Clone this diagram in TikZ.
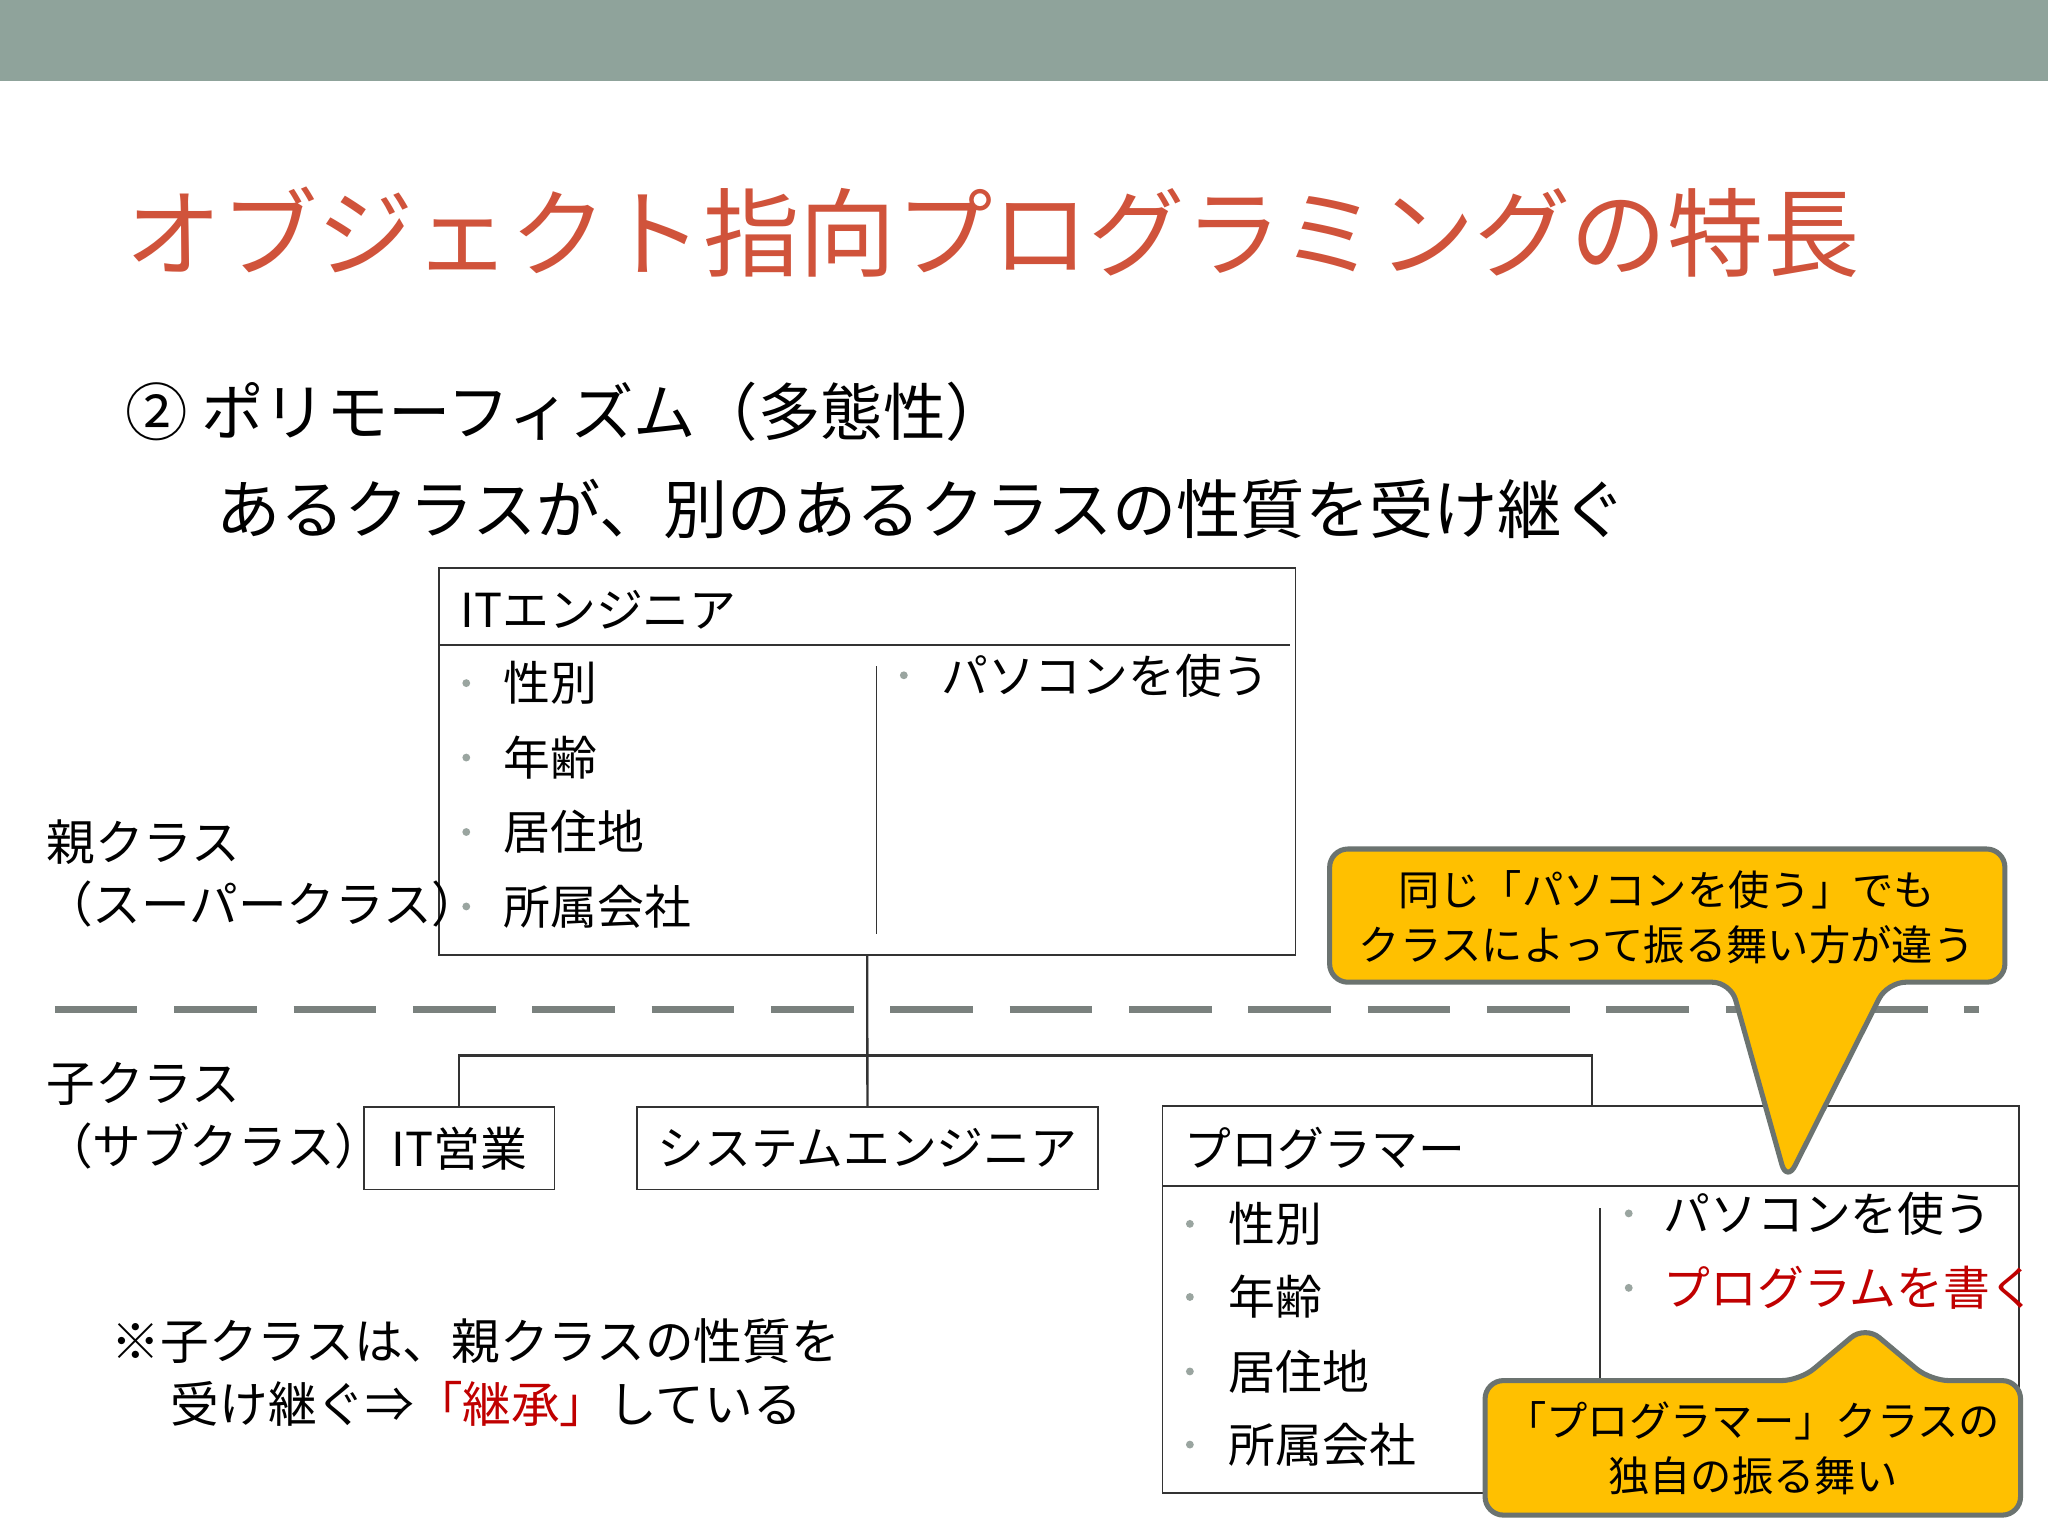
\documentclass[tikz,border=0pt]{standalone}
\usepackage{fontspec}
\setmainfont{Noto Sans CJK JP}
\begin{document}
\begin{tikzpicture}[x=0.1mm,y=-0.1mm,
  t/.style={anchor=west,inner sep=0pt,font=\fontsize{10.2pt}{12pt}\selectfont},
  lab/.style={anchor=west,inner sep=0pt,font=\fontsize{10.6pt}{12pt}\selectfont},
  box/.style={draw=black!80,line width=0.35pt},
  cl/.style={fill=calloutY,draw=calloutB,line width=1.1pt,rounded corners=4pt,line join=round},
  ct/.style={inner sep=0pt,align=center,font=\fontsize{9pt}{12pt}\selectfont}]
\definecolor{band}{HTML}{8FA39B}
\definecolor{titlec}{HTML}{D0533B}
\definecolor{redc}{HTML}{C00000}
\definecolor{calloutY}{HTML}{FFC000}
\definecolor{calloutB}{HTML}{6B7370}
\definecolor{bul}{HTML}{9AA5A0}
\useasboundingbox (0,0) rectangle (1568,1176);
\fill[white] (0,0) rectangle (1568,1176);
\fill[band] (0,0) rectangle (1568,62);
\node[anchor=west,inner sep=0pt,text=titlec,font=\fontsize{21pt}{24pt}\selectfont] (title) at (95,178) {オブジェクト指向プログラミングの特長};
\node[anchor=west,inner sep=0pt,font=\fontsize{13.6pt}{16pt}\selectfont] (sub1) at (95,315) {② ポリモーフィズム（多態性）};
\node[anchor=west,inner sep=0pt,font=\fontsize{14pt}{16pt}\selectfont] (sub2) at (165,390) {あるクラスが、別のあるクラスの性質を受け継ぐ};
% parent box
\draw[box] (336,435) rectangle (992,731);
\coordinate (ptop) at (664,731);
\draw[box] (336,494) -- (988,494);
\draw[box] (671,510) -- (671,715);
\node[t] (ph) at (352,467) {ITエンジニア};
\foreach \y/\s [count=\i] in {523/性別,580/年齢,637/居住地,694/所属会社}{
  \fill[bul] (357,\y) circle (3);
  \node[t] (pl\i) at (385,\y) {\s};}
\fill[bul] (692,517) circle (3);
\node[t] (pr1) at (720,517) {パソコンを使う};
\node[lab] (oya1) at (35,645) {親クラス};
\node[lab] (oya2) at (33,692) {（スーパークラス）};
\draw[calloutB!90,line width=1.6pt,dash pattern=on 18pt off 8pt] (42,773) -- (1515,773);
% children
\node[box,minimum width=146\pgflinewidth,inner sep=0pt,anchor=north west,minimum width=14.6mm,minimum height=6.3mm,font=\fontsize{10.2pt}{12pt}\selectfont] (c1) at (278,847) {IT営業};
\node[box,inner sep=0pt,anchor=north west,minimum width=35.3mm,minimum height=6.3mm,font=\fontsize{10.2pt}{12pt}\selectfont] (c2) at (487,847) {システムエンジニア};
\draw[box] (890,847) rectangle (1546,1143);
\coordinate (c3top) at (1219,847);
\draw[box] (890,908) -- (1546,908);
\draw[box] (1225,925) -- (1225,1055);
\node[t] (ch) at (906,879) {プログラマー};
\foreach \y/\s [count=\i] in {937/性別,993/年齢,1050/居住地,1106/所属会社}{
  \fill[bul] (911,\y) circle (3);
  \node[t] (cl\i) at (940,\y) {\s};}
\fill[bul] (1247,929) circle (3);
\node[t] (cr1) at (1273,929) {パソコンを使う};
\fill[bul] (1247,986) circle (3);
\node[t,text=redc] (cr2) at (1273,986) {プログラムを書く};
\draw[box,line width=0.5pt] (ptop) -- (c2.north);
\draw[box,line width=0.5pt] (c1.north) -- (c1.north |- 0,808) -- (c3top |- 0,808) -- (c3top);
\node[lab] (ko1) at (35,830) {子クラス};
\node[lab] (ko2) at (33,877) {（サブクラス）};
\node[lab] (n1) at (85,1027) {※子クラスは、親クラスの性質を};
\node[lab] (n2) at (130,1075) {受け継ぐ⇒{\color{redc}「継承」}している};
% callouts
\draw[cl] (1018,650) -- (1535,650) -- (1535,752) -- (1445,752) -- (1368,905) -- (1325,752) -- (1018,752) -- cycle;
\node[ct] (k1) at (1276,702) {同じ「パソコンを使う」でも\\クラスによって振る舞い方が違う};
\draw[cl] (1137,1057) -- (1378,1057) -- (1428,1015) -- (1478,1057) -- (1547,1057) -- (1547,1160) -- (1137,1160) -- cycle;
\node[ct] (k2) at (1342,1109) {「プログラマー」クラスの\\独自の振る舞い};
\end{tikzpicture}
\end{document}
